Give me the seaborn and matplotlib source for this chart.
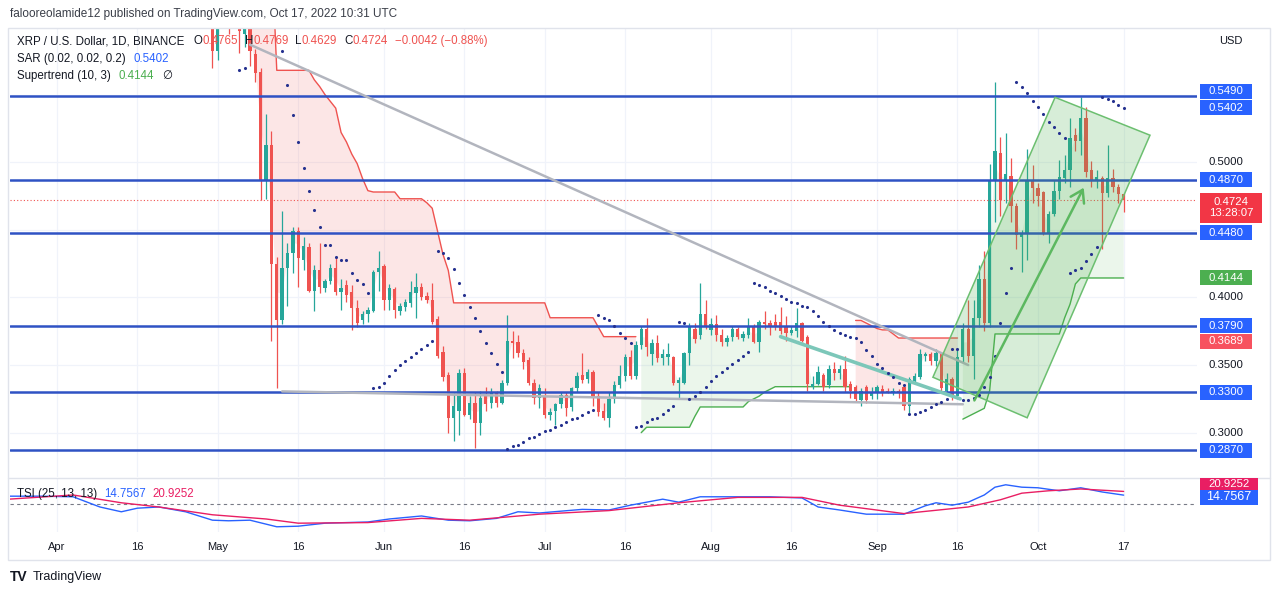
import numpy as np
import pandas as pd
import matplotlib
matplotlib.use("Agg")
import matplotlib.pyplot as plt
import matplotlib.dates as mdates
from matplotlib.patches import Polygon, Rectangle
from matplotlib.lines import Line2D
from matplotlib.transforms import IdentityTransform
import seaborn as sns

nan = np.nan

# XRP / USD daily candles, 2022-04-28 .. 2022-10-17
dates = pd.date_range("2022-04-28", "2022-10-17", freq="D")

opens = [
    0.645, 0.630, 0.620,
    0.582, 0.610, 0.622, 0.605, 0.650, 0.595, 0.601, 0.580, 0.567, 0.487, 0.513, 0.425, 0.383, 0.422, 0.433, 0.449,
    0.428, 0.437, 0.405, 0.420, 0.407, 0.412, 0.422, 0.404, 0.409, 0.404, 0.392, 0.383, 0.388, 0.390, 0.419,
    0.423, 0.398, 0.406, 0.390, 0.393, 0.396, 0.403, 0.408, 0.401, 0.398, 0.384, 0.360, 0.343, 0.311, 0.316,
    0.344, 0.313, 0.322, 0.307, 0.328, 0.322, 0.329, 0.322, 0.337, 0.368, 0.367, 0.359, 0.354, 0.337, 0.326,
    0.327, 0.313, 0.316, 0.321, 0.328, 0.319, 0.333, 0.343, 0.340, 0.345, 0.327, 0.316, 0.311, 0.325, 0.335,
    0.342, 0.356, 0.342, 0.365, 0.377, 0.358, 0.366, 0.355, 0.356, 0.356, 0.337, 0.337, 0.359, 0.377, 0.372, 0.388,
    0.376, 0.380, 0.372, 0.367, 0.371, 0.377, 0.370, 0.372, 0.378, 0.367, 0.382, 0.381, 0.382, 0.382, 0.378,
    0.374, 0.375, 0.381, 0.371, 0.334, 0.336, 0.343, 0.335, 0.347, 0.344, 0.347, 0.336, 0.334, 0.324, 0.334, 0.327,
    0.329, 0.332, 0.331, 0.330, 0.331, 0.334, 0.320, 0.338, 0.341, 0.357, 0.358, 0.353, 0.359, 0.331, 0.340,
    0.327, 0.356, 0.377, 0.357, 0.385, 0.414, 0.381, 0.487, 0.507, 0.486, 0.490, 0.468, 0.445, 0.447, 0.486,
    0.481, 0.478, 0.448, 0.462, 0.479, 0.488, 0.494, 0.520, 0.516, 0.533, 0.494, 0.486, 0.488, 0.477, 0.488,
    0.482, 0.4765,
]
highs = [
    0.660, 0.640, 0.630,
    0.620, 0.630, 0.630, 0.660, 0.660, 0.615, 0.605, 0.584, 0.570, 0.536, 0.523, 0.430, 0.464, 0.440, 0.452, 0.452,
    0.445, 0.440, 0.424, 0.440, 0.414, 0.425, 0.430, 0.414, 0.413, 0.409, 0.398, 0.390, 0.393, 0.420, 0.434,
    0.425, 0.410, 0.408, 0.396, 0.399, 0.412, 0.418, 0.411, 0.404, 0.411, 0.386, 0.364, 0.345, 0.330, 0.347,
    0.348, 0.327, 0.330, 0.331, 0.334, 0.333, 0.331, 0.339, 0.387, 0.375, 0.372, 0.362, 0.356, 0.340, 0.336,
    0.333, 0.318, 0.322, 0.330, 0.330, 0.334, 0.345, 0.359, 0.347, 0.346, 0.330, 0.322, 0.330, 0.338, 0.350,
    0.358, 0.361, 0.368, 0.379, 0.385, 0.369, 0.372, 0.362, 0.366, 0.357, 0.341, 0.360, 0.381, 0.381, 0.411, 0.398,
    0.385, 0.387, 0.377, 0.372, 0.379, 0.378, 0.375, 0.385, 0.380, 0.383, 0.390, 0.383, 0.388, 0.393, 0.386,
    0.379, 0.392, 0.382, 0.372, 0.342, 0.349, 0.344, 0.350, 0.352, 0.350, 0.357, 0.338, 0.335, 0.333, 0.335, 0.334,
    0.335, 0.335, 0.333, 0.333, 0.332, 0.334, 0.341, 0.344, 0.362, 0.360, 0.360, 0.362, 0.360, 0.344, 0.341,
    0.361, 0.381, 0.398, 0.398, 0.424, 0.434, 0.499, 0.559, 0.519, 0.522, 0.503, 0.470, 0.450, 0.510, 0.498,
    0.485, 0.479, 0.464, 0.487, 0.502, 0.505, 0.533, 0.525, 0.548, 0.541, 0.501, 0.494, 0.490, 0.513, 0.495,
    0.484, 0.4769,
]
lows = [
    0.620, 0.605, 0.570,
    0.576, 0.600, 0.595, 0.600, 0.581, 0.585, 0.571, 0.559, 0.472, 0.473, 0.368, 0.333, 0.380, 0.394, 0.418, 0.408,
    0.420, 0.404, 0.390, 0.403, 0.404, 0.410, 0.402, 0.391, 0.397, 0.376, 0.378, 0.380, 0.382, 0.389, 0.405,
    0.391, 0.391, 0.385, 0.387, 0.390, 0.393, 0.385, 0.398, 0.396, 0.380, 0.355, 0.338, 0.300, 0.294, 0.298,
    0.312, 0.310, 0.2885, 0.298, 0.316, 0.318, 0.319, 0.321, 0.335, 0.355, 0.356, 0.347, 0.335, 0.321, 0.318,
    0.311, 0.309, 0.306, 0.318, 0.312, 0.316, 0.330, 0.337, 0.337, 0.320, 0.312, 0.309, 0.304, 0.322, 0.333,
    0.338, 0.340, 0.340, 0.362, 0.357, 0.350, 0.352, 0.350, 0.350, 0.335, 0.325, 0.336, 0.350, 0.366, 0.369, 0.377,
    0.372, 0.368, 0.364, 0.364, 0.368, 0.369, 0.368, 0.370, 0.366, 0.360, 0.377, 0.372, 0.376, 0.373, 0.368,
    0.372, 0.371, 0.367, 0.331, 0.332, 0.335, 0.331, 0.333, 0.339, 0.340, 0.330, 0.326, 0.323, 0.320, 0.322, 0.325,
    0.325, 0.327, 0.329, 0.328, 0.326, 0.317, 0.314, 0.336, 0.340, 0.353, 0.350, 0.349, 0.331, 0.329, 0.324,
    0.325, 0.352, 0.352, 0.340, 0.378, 0.375, 0.378, 0.456, 0.460, 0.470, 0.456, 0.436, 0.419, 0.428, 0.470,
    0.468, 0.446, 0.440, 0.460, 0.473, 0.485, 0.482, 0.508, 0.505, 0.489, 0.482, 0.481, 0.436, 0.474, 0.478,
    0.470, 0.4629,
]
closes = [
    0.630, 0.620, 0.582,
    0.610, 0.622, 0.605, 0.650, 0.597, 0.601, 0.582, 0.566, 0.487, 0.513, 0.425, 0.383, 0.422, 0.433, 0.449, 0.429,
    0.438, 0.405, 0.420, 0.408, 0.412, 0.422, 0.404, 0.407, 0.402, 0.392, 0.381, 0.388, 0.391, 0.419, 0.422,
    0.398, 0.407, 0.391, 0.394, 0.397, 0.404, 0.408, 0.400, 0.398, 0.382, 0.357, 0.341, 0.311, 0.320, 0.344,
    0.313, 0.322, 0.307, 0.326, 0.321, 0.330, 0.322, 0.337, 0.368, 0.366, 0.359, 0.352, 0.337, 0.326, 0.333,
    0.313, 0.315, 0.321, 0.328, 0.318, 0.333, 0.342, 0.339, 0.345, 0.326, 0.315, 0.311, 0.325, 0.335, 0.342,
    0.356, 0.342, 0.365, 0.377, 0.363, 0.366, 0.355, 0.358, 0.358, 0.337, 0.339, 0.359, 0.379, 0.369, 0.388, 0.379,
    0.380, 0.372, 0.367, 0.370, 0.377, 0.371, 0.373, 0.379, 0.367, 0.382, 0.380, 0.378, 0.378, 0.375, 0.374,
    0.376, 0.381, 0.368, 0.336, 0.336, 0.345, 0.334, 0.347, 0.344, 0.347, 0.334, 0.331, 0.325, 0.331, 0.324, 0.330,
    0.334, 0.329, 0.330, 0.331, 0.329, 0.320, 0.340, 0.342, 0.358, 0.358, 0.353, 0.359, 0.333, 0.340, 0.327,
    0.356, 0.377, 0.357, 0.385, 0.414, 0.381, 0.487, 0.508, 0.472, 0.491, 0.468, 0.446, 0.448, 0.487, 0.481,
    0.475, 0.447, 0.462, 0.479, 0.489, 0.494, 0.518, 0.516, 0.533, 0.493, 0.486, 0.489, 0.477, 0.488, 0.482,
    0.4765, 0.4724,
]

# Parabolic SAR (0.02, 0.02, 0.2), one value per candle
sar = [
    nan, nan, nan,
    nan, nan, nan, nan, 0.568, 0.570, 0.660, 0.660, 0.650, 0.640, 0.625, 0.610, 0.582, 0.557, 0.535, 0.515,
    0.496, 0.479, 0.465, 0.452, 0.439, 0.439, 0.430, 0.428, 0.428, 0.418, 0.413, 0.410, 0.403, 0.333, 0.334,
    0.337, 0.342, 0.346, 0.350, 0.353, 0.356, 0.359, 0.362, 0.365, 0.368, 0.434, 0.433, 0.429, 0.421, 0.411,
    0.402, 0.393, 0.385, 0.375, 0.366, 0.359, 0.351, 0.345, 0.288, 0.290, 0.291, 0.293, 0.296, 0.297, 0.299,
    0.301, 0.302, 0.304, 0.306, 0.308, 0.310, 0.311, 0.313, 0.315, 0.317, 0.387, 0.385, 0.383, 0.379, 0.374,
    0.370, 0.366, 0.304, 0.305, 0.308, 0.310, 0.311, 0.314, 0.317, 0.320, 0.382, 0.381, 0.325, 0.327, 0.330, 0.334,
    0.338, 0.342, 0.345, 0.348, 0.351, 0.354, 0.357, 0.360, 0.411, 0.409, 0.408, 0.405, 0.403, 0.401, 0.399,
    0.397, 0.396, 0.394, 0.393, 0.390, 0.386, 0.382, 0.379, 0.376, 0.374, 0.372, 0.371, 0.370, 0.367, 0.361, 0.357,
    0.351, 0.348, 0.344, 0.341, 0.337, 0.335, 0.314, 0.314, 0.315, 0.317, 0.319, 0.321, 0.323, 0.325, 0.362,
    0.362, 0.324, 0.324, 0.326, 0.328, 0.334, 0.341, 0.357, 0.381, 0.403, 0.422, 0.559, 0.556, 0.551, 0.545,
    0.541, 0.536, 0.530, 0.526, 0.522, 0.518, 0.418, 0.420, 0.422, 0.427, 0.432, 0.437, 0.548, 0.547, 0.545,
    0.542, 0.540,
]

# Supertrend (10, 3): down-trend (red) leg, month by month
st_down = (
    [nan, nan, nan]
    + [nan, nan, nan, nan, nan, nan, 0.660, 0.660, 0.660, 0.660, 0.660,
       0.568, 0.568, 0.568, 0.568, 0.568, 0.568, 0.568,
       0.561, 0.556, 0.550, 0.545, 0.540, 0.522, 0.515, 0.506, 0.499, 0.488, 0.479, 0.478, 0.478]
    + [0.478, 0.478, 0.478, 0.473, 0.473, 0.473, 0.473, 0.473, 0.470, 0.466, 0.449, 0.432, 0.420,
       0.396, 0.396, 0.396, 0.396, 0.396, 0.396, 0.396, 0.396, 0.396, 0.396,
       0.396, 0.396, 0.396, 0.396, 0.396, 0.396, 0.396]
    + [0.396, 0.385, 0.385, 0.385, 0.385, 0.385, 0.385, 0.385, 0.385, 0.385, 0.378,
       0.371, 0.371, 0.371, 0.371, 0.371, 0.371, 0.371] + [nan] * 13
    + [nan] * 27 + [0.383, 0.383, 0.381, 0.379]
    + [0.377, 0.376, 0.376, 0.373, 0.370, 0.370, 0.370, 0.370, 0.370, 0.370, 0.370, 0.370,
       0.370, 0.370, 0.370, 0.370] + [nan] * 14
    + [nan] * 17
)
# up-trend (green) leg
st_up = (
    [nan] * 3 + [nan] * 31 + [nan] * 30
    + [nan] * 18 + [0.300, 0.304, 0.304, 0.304, 0.304, 0.304, 0.304, 0.304, 0.304, 0.304, 0.312, 0.319, 0.319]
    + [0.319, 0.319, 0.319, 0.319, 0.319, 0.319, 0.319, 0.323, 0.325, 0.327, 0.330, 0.332,
       0.334, 0.334, 0.334, 0.334, 0.334, 0.334, 0.334, 0.334, 0.334, 0.334,
       0.334, 0.334, 0.334, 0.334, 0.334] + [nan] * 4
    + [nan] * 16 + [0.310, 0.312, 0.314, 0.316, 0.318, 0.331, 0.373, 0.373, 0.373, 0.373, 0.373, 0.373,
                    0.373, 0.373]
    + [0.373, 0.373, 0.373, 0.373, 0.373, 0.385, 0.395, 0.410,
       0.4144, 0.4144, 0.4144, 0.4144, 0.4144, 0.4144, 0.4144, 0.4144, 0.4144]
)

levels = [0.5490, 0.4870, 0.4480, 0.3790, 0.3300, 0.2870]
last_price = 0.4724

# drawings on the chart
upper_trend_dates = ["2022-05-07 00:00", "2022-09-18 00:00"]
upper_trend_prices = [0.587, 0.350]
lower_trend_dates = ["2022-05-13 00:00", "2022-09-17 00:00"]
lower_trend_prices = [0.3305, 0.3210]
teal_dates = ["2022-08-14 00:00", "2022-09-16 12:00"]
teal_prices = [0.371, 0.325]
channel_dates = ["2022-09-11 10:00", "2022-10-04 05:00", "2022-10-21 22:00", "2022-09-29 00:00"]
channel_prices = [0.341, 0.548, 0.520, 0.311]
arrow_dates = ["2022-09-18 22:00", "2022-10-09 19:00"]
arrow_prices = [0.322, 0.483]

# TSI (25, 13, 13)
tsi_dates = ["2022-03-23", "2022-03-29", "2022-04-04", "2022-04-09", "2022-04-13", "2022-04-16", "2022-04-20",
             "2022-04-25", "2022-04-30", "2022-05-03", "2022-05-07", "2022-05-12", "2022-05-16", "2022-05-21",
             "2022-05-29", "2022-06-02", "2022-06-08", "2022-06-13", "2022-06-17", "2022-06-22", "2022-06-26",
             "2022-06-30", "2022-07-08", "2022-07-13", "2022-07-17", "2022-07-23", "2022-07-26", "2022-07-30",
             "2022-08-06", "2022-08-12", "2022-08-18", "2022-08-21", "2022-08-25", "2022-08-30", "2022-09-06",
             "2022-09-10", "2022-09-12", "2022-09-15", "2022-09-18", "2022-09-21", "2022-09-23", "2022-09-25",
             "2022-09-28", "2022-10-01", "2022-10-05", "2022-10-09", "2022-10-13", "2022-10-17"]
tsi_values = [13, 13, 12, -5, -13, -7, -5, -13, -27, -28, -27, -38, -37, -32, -30, -25, -20, -27, -28, -24,
              -13, -15, -9, -10, -2, 8, 3, 12, 12, 12, 10, -5, -10, -17, -17, -3, 2, -2, 3, 15, 28, 32, 28, 27,
              22, 27, 20, 14.7567]
signal_dates = ["2022-03-23", "2022-04-04", "2022-04-13", "2022-04-20", "2022-04-30", "2022-05-10", "2022-05-16",
                "2022-05-29", "2022-06-08", "2022-06-17", "2022-06-30", "2022-07-13", "2022-07-18", "2022-07-26",
                "2022-08-06", "2022-08-18", "2022-08-25", "2022-09-06", "2022-09-18", "2022-09-24", "2022-09-28",
                "2022-10-03", "2022-10-09", "2022-10-17"]
signal_values = [8, 15, 2, -5, -18, -25, -32, -31, -24, -27, -17, -11, -6, 2, 11, 11, -2, -16, -5, 7, 18, 22,
                 25, 20.9252]

tick_dates = ["2022-04-01", "2022-04-16", "2022-05-01", "2022-05-16", "2022-06-01", "2022-06-16", "2022-07-01",
              "2022-07-16", "2022-08-01", "2022-08-16", "2022-09-01", "2022-09-16", "2022-10-01", "2022-10-17"]
tick_labels = ["Apr", "16", "May", "16", "Jun", "16", "Jul", "16", "Aug", "16", "Sep", "16", "Oct", "17"]
price_grid = [0.30, 0.35, 0.40, 0.45, 0.50, 0.55]

n = len(dates)
for name, arr in [("opens", opens), ("highs", highs), ("lows", lows), ("closes", closes),
                  ("sar", sar), ("st_down", st_down), ("st_up", st_up)]:
    assert len(arr) == n, (name, len(arr), n)


def dnum(lst):
    return mdates.date2num(pd.to_datetime(lst, format="ISO8601"))


# colours
DARK = "#131722"
UP = "#26a69a"
DOWN = "#ef5350"
LEVEL = "#2f52c4"
TAG = "#2962ff"
SAR_C = "#25318f"
ST_RED = "#ef5350"
ST_GREEN = "#4caf50"
GRID = "#f0f3fa"
BORDER = "#e0e3eb"
TSI_BLUE = "#2962ff"
TSI_RED = "#e91e63"

sns.set_theme(style="white")
plt.rcParams["font.family"] = ["Liberation Sans", "DejaVu Sans"]

W, H = 1280, 595
fig = plt.figure(figsize=(W / 100, H / 100), dpi=100)
fig.patch.set_facecolor("white")
ax = fig.add_axes([10 / W, 1 - 477 / H, 1187 / W, 449 / H])
axt = fig.add_axes([10 / W, 1 - 532 / H, 1187 / W, 54 / H], sharex=ax)

x = mdates.date2num(dates)
o = np.array(opens)
h = np.array(highs)
l = np.array(lows)
c = np.array(closes)
x_left = dnum(["2022-03-23 05:30"])[0]
x_right = dnum(["2022-10-30 16:30"])[0]
ax.set_xlim(x_left, x_right)
ax.set_ylim(0.2672, 0.5993)
axt.set_ylim(-46.7, 43.3)

tx = dnum(tick_dates)
for a in (ax, axt):
    for t in tx:
        a.axvline(t, color=GRID, lw=0.9, zorder=0)
    a.set_facecolor("white")
    for s in a.spines.values():
        s.set_visible(False)
for p in price_grid:
    ax.axhline(p, color=GRID, lw=0.9, zorder=0)

# supertrend with fill to body middle
mid = (o + c) / 2
for st, lc, fc in [(st_down, ST_RED, (0.94, 0.33, 0.31, 0.14)), (st_up, ST_GREEN, (0.30, 0.69, 0.31, 0.11))]:
    st = np.array(st, dtype=float)
    ok = np.isfinite(st)
    ax.fill_between(x, np.where(ok, st, mid), mid, where=ok, color=fc, lw=0, zorder=1)
    ax.plot(x, st, color=lc, lw=1.0, zorder=2)

# candles
col = np.where(c >= o, UP, DOWN)
ax.vlines(x, l, h, colors=col, lw=0.9, zorder=4)
ax.bar(x, np.maximum(np.abs(c - o), 0.0008), bottom=np.minimum(o, c), width=0.62, color=col, lw=0, zorder=4)

# SAR dots
sns.scatterplot(x=x, y=np.array(sar, dtype=float), ax=ax, color=SAR_C, s=5, linewidth=0, zorder=6, legend=False)

# horizontal levels and last price
for lv in levels:
    ax.axhline(lv, color=LEVEL, lw=1.8, zorder=5)
ax.axhline(last_price, color=DOWN, lw=0.8, ls=(0, (1, 2)), zorder=5)

# trendlines
ax.plot(dnum(upper_trend_dates), upper_trend_prices, color="#b2b5be", lw=1.8, zorder=5)
ax.plot(dnum(lower_trend_dates), lower_trend_prices, color="#b2b5be", lw=1.8, zorder=5)
ax.plot(dnum(teal_dates), teal_prices, color="#7cc7b9", lw=2.6, zorder=5)

# rising channel + arrow
ch = np.column_stack([dnum(channel_dates), channel_prices])
ax.add_patch(Polygon(ch, closed=True, fc=(0.30, 0.69, 0.31, 0.22), ec="#6cbf70", lw=1.1, zorder=5))
ad = dnum(arrow_dates)
ax.annotate("", xy=(ad[1], arrow_prices[1]), xytext=(ad[0], arrow_prices[0]),
            arrowprops=dict(arrowstyle="->,head_length=0.7,head_width=0.45", color="#5cb860", lw=1.8),
            zorder=6)

ax.tick_params(left=False, bottom=False, labelleft=False, labelbottom=False)
ax.set_xlabel("")
ax.set_ylabel("")

# TSI pane
sns.lineplot(x=dnum(tsi_dates), y=tsi_values, ax=axt, color=TSI_BLUE, lw=1.0)
sns.lineplot(x=dnum(signal_dates), y=signal_values, ax=axt, color=TSI_RED, lw=1.0)
axt.axhline(0, color="#787b86", lw=0.8, ls=(0, (3, 3)), zorder=1)
axt.set_xlim(x_left, x_right)
axt.set_xticks(tx)
axt.set_xticklabels(tick_labels)
axt.tick_params(axis="x", length=0, pad=7, labelsize=8, colors=DARK)
axt.tick_params(left=False, labelleft=False)
axt.set_xlabel("")
axt.set_ylabel("")

# frame
fig.add_artist(Rectangle((8 / W, 1 - 560 / H), 1262 / W, 532 / H, transform=fig.transFigure,
                         fill=False, ec=BORDER, lw=1))
fig.add_artist(Line2D([8 / W, 1270 / W], [1 - 477.5 / H] * 2, transform=fig.transFigure, color=BORDER, lw=1))

renderer = fig.canvas.get_renderer()


def text_run(x0, y0, parts, size=8.3):
    for s, colr, gap in parts:
        t = fig.text(x0 / W, 1 - y0 / H, s, color=colr, fontsize=size, va="center", ha="left")
        x0 += t.get_window_extent(renderer).width + gap


fig.text(10 / W, 1 - 14 / H, "falooreolamide12 published on TradingView.com, Oct 17, 2022 10:31 UTC",
         color="#3a3e48", fontsize=8.5, va="center")
text_run(17, 41, [("XRP / U.S. Dollar, 1D, BINANCE", DARK, 9), ("O", DARK, 0), ("0.4765", DOWN, 7),
                  ("H", DARK, 0), ("0.4769", DOWN, 7), ("L", DARK, 0), ("0.4629", DOWN, 7),
                  ("C", DARK, 0), ("0.4724", DOWN, 7), ("\u22120.0042 (\u22120.88%)", DOWN, 0)])
text_run(17, 59, [("SAR (0.02, 0.02, 0.2)", DARK, 8), ("0.5402", TAG, 0)])
text_run(17, 76, [("Supertrend (10, 3)", DARK, 8), ("0.4144", ST_GREEN, 8), ("\u2205", DARK, 0)])
text_run(17, 494, [("TSI (25, 13, 13)", DARK, 7), ("14.7567", TSI_BLUE, 7), ("20.9252", TSI_RED, 0)])
fig.text(1219 / W, 1 - 41 / H, "USD", color=DARK, fontsize=8, va="center")
fig.text(10 / W, 1 - 577 / H, "TV", color=DARK, fontsize=10, fontweight="bold", va="center")
fig.text(33 / W, 1 - 577 / H, "TradingView", color=DARK, fontsize=9, va="center")


# price scale labels
def ypix(axis, v):
    return axis.transData.transform((0, v))[1]


def tag(axis, v, s, fc, tc="white", x0=1200, x1=1252, half=7.5, size=8.2):
    yp = ypix(axis, v)
    if fc is not None:
        fig.add_artist(Rectangle((x0, yp - half), x1 - x0, 2 * half, transform=IdentityTransform(),
                                 fc=fc, ec="none", zorder=10))
    fig.text((x0 + x1) / 2 / W, yp / H, s, color=tc, fontsize=size, ha="center", va="center",
             zorder=11, linespacing=1.1)


for v in [0.5000, 0.4000, 0.3500, 0.3000]:
    tag(ax, v, f"{v:.4f}", None, tc=DARK)
tag(ax, 0.5527, "0.5490", TAG)
tag(ax, 0.5402, "0.5402", TAG)
tag(ax, 0.4870, "0.4870", TAG)
tag(ax, 0.4664, "0.4724\n13:28:07", "#f23645", x1=1262, half=15)
tag(ax, 0.4480, "0.4480", TAG)
tag(ax, 0.4144, "0.4144", ST_GREEN)
tag(ax, 0.3790, "0.3790", TAG)
tag(ax, 0.3675, "0.3689", "#f7525f")
tag(ax, 0.3300, "0.3300", TAG)
tag(ax, 0.2870, "0.2870", TAG)
tag(axt, 34, "20.9252", TSI_RED, x1=1258, half=6)
tag(axt, 11.5, "14.7567", TAG, x1=1258, half=7.5, size=9)

fig.savefig("out.png", dpi=100, facecolor="white")
